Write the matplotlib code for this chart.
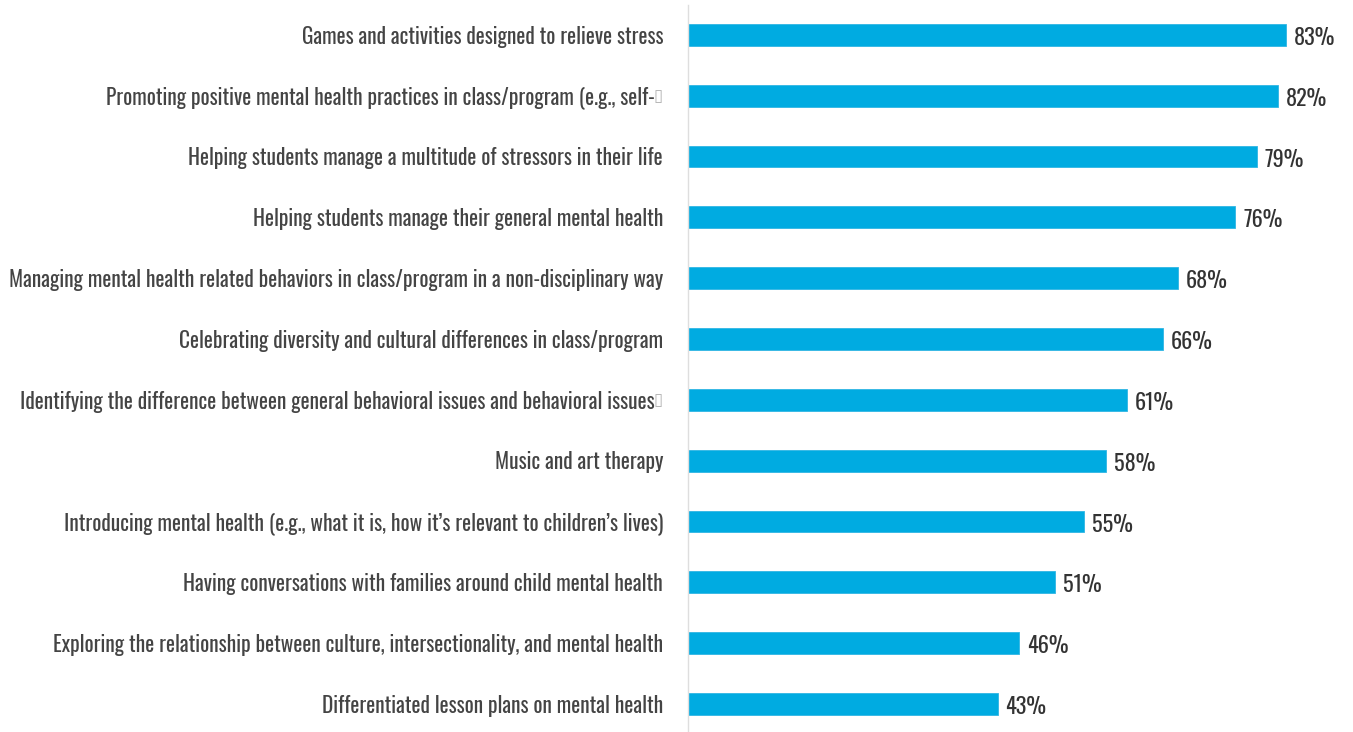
import matplotlib
matplotlib.use("Agg")
import matplotlib.pyplot as plt

# =============================================================================
# data
# =============================================================================
box = "\u25af"  # the character the source pdf could not render
labels = [
    "Games and activities designed to relieve stress",
    "Promoting positive mental health practices in class/program (e.g., self-" + box,
    "Helping students manage a multitude of stressors in their life",
    "Helping students manage their general mental health",
    "Managing mental health related behaviors in class/program in a non-disciplinary way",
    "Celebrating diversity and cultural differences in class/program",
    "Identifying the difference between general behavioral issues and behavioral issues" + box,
    "Music and art therapy",
    "Introducing mental health (e.g., what it is, how it\u2019s relevant to children\u2019s lives)",
    "Having conversations with families around child mental health",
    "Exploring the relationship between culture, intersectionality, and mental health",
    "Differentiated lesson plans on mental health",
]
values = [83, 82, 79, 76, 68, 66, 61, 58, 55, 51, 46, 43]

# =============================================================================
# plot
# =============================================================================
plt.rcParams['font.family'] = ['Oswald', 'DejaVu Sans']

fig = plt.figure(figsize=(13.53, 7.32), dpi=100)
ax = fig.add_axes([688 / 1353, 0, 1 - 688 / 1353, 1 - 5 / 732])

y = list(range(len(values)))
ax.barh(y, values, height=0.36, color='#00abe1', edgecolor='#2fb6e4', linewidth=0.6)
ax.set_xlim(0, (1353 - 688) / 7.2)
ax.set_ylim(len(values) - 1 + 0.46, -0.49)

# value labels
for yi, v in zip(y, values):
    ax.text(v + 1.1, yi + 0.05, str(v) + "%", va='center', ha='left',
            fontsize=16, color='#333333', fontweight='bold')

# category labels, the unrendered char drawn on its own in a font that has it
pad = 25
bw = 8
for yi, lab in zip(y, labels):
    if lab.endswith(box):
        ax.annotate(box, (0, yi), xycoords=('axes fraction', 'data'),
                    xytext=(-pad, 0), textcoords='offset pixels',
                    ha='right', va='center', fontsize=12, color='#b5b5b5',
                    family='DejaVu Sans')
        lab = lab[:-1]
        off = pad + bw
    else:
        off = pad
    ax.annotate(lab, (0, yi + 0.03), xycoords=('axes fraction', 'data'),
                xytext=(-off, 0), textcoords='offset pixels',
                ha='right', va='center', fontsize=15.4, color='#444444',
                fontweight='light')

ax.set_yticks([])
ax.set_xticks([])
for s in ['top', 'right', 'bottom']:
    ax.spines[s].set_visible(False)
ax.spines['left'].set_color('#dedede')
ax.spines['left'].set_linewidth(1)

fig.savefig("out.png", dpi=100)
